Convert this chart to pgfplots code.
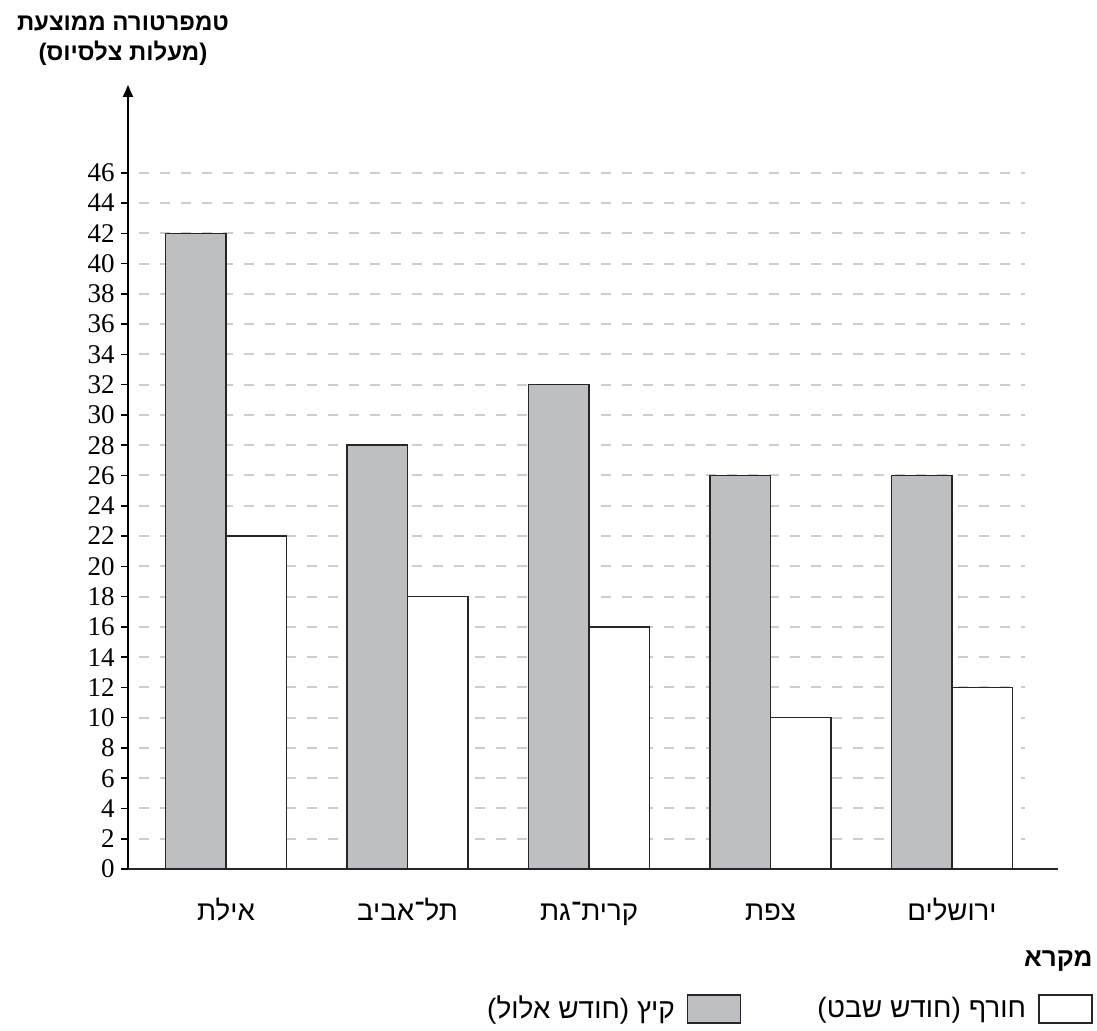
\documentclass[border=0pt]{standalone}
\usepackage{fontspec}
\setmainfont{Liberation Serif}
\newfontfamily\hebfont[Script=Hebrew]{Liberation Sans}
\usepackage{pgfplots}
\pgfplotsset{compat=1.18}
\usetikzlibrary{arrows.meta}
\TeXXeTstate=1
\definecolor{summergray}{RGB}{190,191,194}
\definecolor{gridgray}{RGB}{205,205,205}
\begin{document}
\begin{tikzpicture}
\useasboundingbox (-64pt,-80.5pt) rectangle (484.5pt,434.5pt);
\begin{axis}[
  at={(0pt,0pt)}, anchor=south west,
  scale only axis, width=465pt, height=392pt,
  clip=false,
  xmin=-0.54, xmax=4.584, ymin=0, ymax=51.8,
  axis x line=bottom, axis y line=left,
  x axis line style={-, black!85, line width=0.9pt},
  y axis line style={-{Triangle[length=6pt,width=5pt]}, black, line width=0.8pt},
  xtick={0,1,2,3,4},
  xticklabels={{\beginR אילת\endR},{\beginR תל־אביב\endR},{\beginR קרית־גת\endR},{\beginR צפת\endR},{\beginR ירושלים\endR}},
  xtick style={draw=none},
  xticklabel style={font=\hebfont\fontsize{13.8}{16}\selectfont, anchor=base, yshift=-22pt},
  ytick={0,2,...,46},
  tick align=outside, major tick length=3.5pt,
  ytick style={black, line width=0.8pt},
  yticklabel style={font=\fontsize{13.5}{15}\selectfont, anchor=east, inner sep=0pt, xshift=-3pt},
  /pgf/number format/assume math mode=true,
  legend plot pos=right,
  legend columns=2,
  legend style={at={(axis description cs:1.0376,-0.1786)}, anchor=east, draw=none, fill=none,
    inner sep=0pt, font=\hebfont\fontsize{14}{16}\selectfont,
    /tikz/every even column/.append style={column sep=36pt},
    /tikz/every odd column/.append style={column sep=4pt}},
  legend image code/.code={\draw[#1] (0pt,-7pt) rectangle (26.5pt,7pt);},
]
\pgfplotsinvokeforeach{2,4,...,46}{
  \draw[gridgray, line width=1pt, dash pattern=on 5pt off 5.5pt] (axis cs:-0.479,#1) -- (axis cs:4.402,#1);
}
\addplot[ybar, bar width=0.3333, bar shift=-0.16667, fill=summergray, draw=black!85, line width=0.75pt]
  coordinates {(0,42) (1,28) (2,32) (3,26) (4,26)};
\addlegendentry{\beginR קיץ (חודש אלול)\endR}
\addplot[ybar, bar width=0.3333, bar shift=0.16667, fill=white, draw=black!85, line width=0.75pt]
  coordinates {(0,22) (1,18) (2,16) (3,10) (4,12)};
\addlegendentry{\beginR חורף (חודש שבט)\endR}
\node[anchor=east, inner sep=0pt, font=\hebfont\bfseries\fontsize{13}{15}\selectfont] at (axis description cs:1.0376,-0.117) {\beginR מקרא\endR};
\node[inner sep=0pt, align=center, font=\hebfont\bfseries\fontsize{12}{15}\selectfont] at (axis description cs:-0.0054,1.0561) {\beginR טמפרטורה ממוצעת\endR\\\beginR (מעלות צלסיוס)\endR};
\end{axis}
\end{tikzpicture}
\end{document}
